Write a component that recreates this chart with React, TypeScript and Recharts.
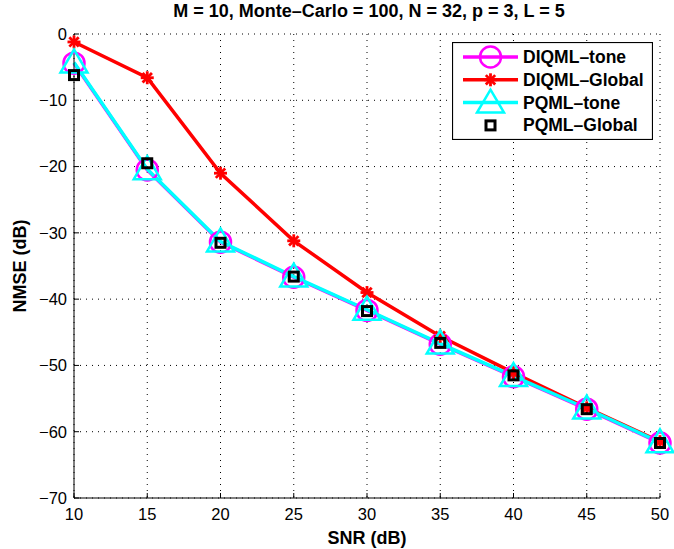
import React from 'react';
import { LineChart, Line, XAxis, YAxis, CartesianGrid, Label } from 'recharts';

const snr = [10, 15, 20, 25, 30, 35, 40, 45, 50];
const diqmlTone = [-4.4, -20.5, -31.4, -36.7, -41.7, -46.8, -51.7, -56.6, -61.7];
const diqmlGlobal = [-1.2, -6.6, -21.0, -31.2, -39.0, -45.6, -51.1, -56.4, -61.5];
const pqmlTone = [-4.3, -20.4, -31.3, -36.6, -41.6, -46.7, -51.6, -56.5, -61.6];
const pqmlGlobal = [-6.2, -19.5, -31.5, -36.6, -41.8, -46.6, -51.5, -56.6, -61.7];

const xTicks = [10, 15, 20, 25, 30, 35, 40, 45, 50];
const yTicks = [0, -10, -20, -30, -40, -50, -60, -70];

const data = snr.map((s, i) => ({
  snr: s,
  diqmlTone: diqmlTone[i],
  diqmlGlobal: diqmlGlobal[i],
  pqmlTone: pqmlTone[i],
  pqmlGlobal: pqmlGlobal[i],
}));

const FONT = '"Liberation Sans", Arial, Helvetica, sans-serif';

const series = [
  { key: 'diqmlTone', name: 'DIQML–tone', color: '#ff00ff', marker: 'circle', line: true },
  { key: 'diqmlGlobal', name: 'DIQML–Global', color: '#ff0000', marker: 'star', line: true },
  { key: 'pqmlTone', name: 'PQML–tone', color: '#00ffff', marker: 'triangle', line: true },
  { key: 'pqmlGlobal', name: 'PQML–Global', color: '#000000', marker: 'square', line: false },
];

const Marker = ({ type, cx, cy, color }: { type: string; cx: number; cy: number; color: string }) => {
  if (cx == null || cy == null) return null;
  switch (type) {
    case 'circle':
      return <circle cx={cx} cy={cy} r={10.5} fill="none" stroke={color} strokeWidth={2.5} />;
    case 'triangle':
      return (
        <polygon
          points={`${cx},${cy - 13} ${cx + 13.5},${cy + 10} ${cx - 13.5},${cy + 10}`}
          fill="none"
          stroke={color}
          strokeWidth={2.5}
          strokeLinejoin="miter"
        />
      );
    case 'square':
      return <rect x={cx - 4.5} y={cy - 4.5} width={9} height={9} fill="none" stroke={color} strokeWidth={3} />;
    case 'star': {
      const r = 6.5;
      const d = r * 0.72;
      return (
        <g stroke={color} strokeWidth={2.8}>
          <line x1={cx - r} y1={cy} x2={cx + r} y2={cy} />
          <line x1={cx} y1={cy - r} x2={cx} y2={cy + r} />
          <line x1={cx - d} y1={cy - d} x2={cx + d} y2={cy + d} />
          <line x1={cx - d} y1={cy + d} x2={cx + d} y2={cy - d} />
        </g>
      );
    }
    default:
      return null;
  }
};

// legend drawn as its own box in the upper right of the plot
const LegendBox = () => (
  <svg width={201} height={98} style={{ display: 'block' }}>
    <rect x={0.5} y={0.5} width={200} height={97} fill="#fff" stroke="#000" strokeWidth={1.2} />
    {series.map((s, i) => {
      const y = 15 + i * 22.8;
      return (
        <g key={s.key}>
          {s.line && <line x1={11} y1={y} x2={66} y2={y} stroke={s.color} strokeWidth={3.5} />}
          <Marker type={s.marker} cx={38.5} cy={y} color={s.color} />
          <text
            x={71}
            y={y}
            dominantBaseline="central"
            fontFamily={FONT}
            fontWeight="bold"
            fontSize={17.5}
            fill="#000"
          >
            {s.name}
          </text>
        </g>
      );
    })}
  </svg>
);

const minus = (v: number) => String(v).replace('-', '−');

export default function App() {
  return (
    <div style={{ position: 'absolute', left: 0, top: 0, width: 674, height: 549, background: '#fff' }}>
      <div
        style={{
          position: 'absolute',
          left: 74,
          width: 590,
          top: 1,
          textAlign: 'center',
          fontFamily: FONT,
          fontWeight: 'bold',
          fontSize: 18,
          color: '#000',
          whiteSpace: 'nowrap',
        }}
      >
        M = 10, Monte–Carlo = 100, N = 32, p = 3, L = 5
      </div>
      <LineChart width={674} height={549} data={data} margin={{ top: 34, right: 14, bottom: 21, left: 34 }}>
        <CartesianGrid stroke="#000" strokeDasharray="1 5" strokeWidth={1} />
        <XAxis
          dataKey="snr"
          type="number"
          domain={[10, 50]}
          ticks={xTicks}
          height={30}
          stroke="#000"
          tickSize={-5}
          tickMargin={15}
          tick={{ fill: '#000', fontFamily: FONT, fontSize: 16.5 }}
          axisLine={{ stroke: '#000', strokeWidth: 1 }}
        >
          <Label
            value="SNR (dB)"
            position="bottom"
            offset={3}
            style={{ fontFamily: FONT, fontWeight: 'bold', fontSize: 18, fill: '#000' }}
          />
        </XAxis>
        <YAxis
          type="number"
          domain={[-70, 0]}
          ticks={yTicks}
          width={40}
          stroke="#000"
          tickSize={-5}
          tickMargin={12}
          tickFormatter={minus}
          tick={{ fill: '#000', fontFamily: FONT, fontSize: 16.5 }}
          axisLine={{ stroke: '#000', strokeWidth: 1 }}
        >
          <Label
            value="NMSE (dB)"
            angle={-90}
            position="insideLeft"
            offset={-14}
            style={{ fontFamily: FONT, fontWeight: 'bold', fontSize: 18, fill: '#000', textAnchor: 'middle' }}
          />
        </YAxis>
        {series.map((s) => (
          <Line
            key={s.key}
            dataKey={s.key}
            name={s.name}
            type="linear"
            stroke={s.line ? s.color : 'none'}
            strokeWidth={3.5}
            isAnimationActive={false}
            dot={(p: any) => <Marker key={`${s.key}-${p.index}`} type={s.marker} cx={p.cx} cy={p.cy} color={s.color} />}
            activeDot={false}
          />
        ))}
      </LineChart>
      <div style={{ position: 'absolute', left: 452, top: 42 }}>
        <LegendBox />
      </div>
    </div>
  );
}
